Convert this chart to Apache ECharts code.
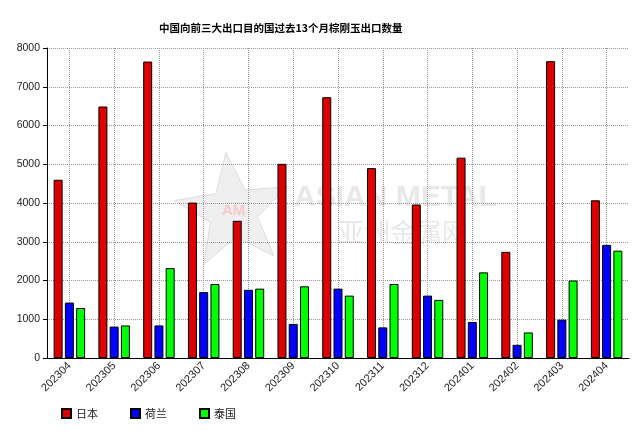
<!DOCTYPE html>
<html>
<head>
<meta charset="utf-8">
<script src="https://cdn.jsdelivr.net/npm/echarts@6/dist/echarts.min.js"></script>
<style>html,body{margin:0;padding:0;background:#fff;}#c{width:644px;height:435px;}</style>
</head>
<body>
<div id="c"></div>
<script>
var categories = ['202304','202305','202306','202307','202308','202309','202310','202311','202312','202401','202402','202403','202404'];
var japan = [4600, 6490, 7650, 4010, 3540, 5010, 6730, 4900, 3960, 5170, 2740, 7660, 4070];
var netherlands = [1430, 810, 840, 1700, 1760, 880, 1790, 790, 1610, 930, 340, 990, 2920];
var thailand = [1290, 840, 2320, 1910, 1790, 1850, 1610, 1910, 1500, 2210, 660, 2000, 2770];
var seriesNames = ['日本', '荷兰', '泰国'];
var yTicks = [0, 1000, 2000, 3000, 4000, 5000, 6000, 7000, 8000];

function starPoints(cx, cy, R, r, rot) {
  var pts = [];
  for (var i = 0; i < 10; i++) {
    var rad = (i % 2 === 0) ? R : r;
    var a = rot + i * Math.PI / 5 - Math.PI / 2;
    pts.push([cx + rad * Math.cos(a), cy + rad * Math.sin(a)]);
  }
  return pts;
}

var chart = echarts.init(document.getElementById('c'), null, {renderer: 'canvas'});
var barStyle = function (c) { return {color: c, borderColor: '#000', borderWidth: 1}; };
var font = '"Liberation Sans", Arial, sans-serif';
chart.setOption({
  animation: false,
  backgroundColor: '#fff',
  title: {
    text: '中国向前三大出口目的国过去13个月棕刚玉出口数量',
    left: 154, top: 18,
    textStyle: {fontSize: 10.5, fontWeight: 'bold', color: '#000', fontFamily: '"Noto Sans CJK SC", sans-serif'}
  },
  graphic: [
    {type: 'polygon', z: 0, shape: {points: starPoints(233, 212, 60, 25, -0.12)}, style: {fill: '#efefef', stroke: '#dddddd', lineWidth: 1}},
    {type: 'text', z: 0, left: 222, top: 203, style: {text: 'AM', fontSize: 15, fontWeight: 'bold', fill: '#f6c8c8', fontFamily: font}},
    {type: 'text', z: 0, left: 294, top: 183, style: {text: 'ASIAN METAL', fontSize: 30, fontWeight: 'bold', fill: '#e8e8e8', fontFamily: font}},
    {type: 'text', z: 0, left: 338, top: 219, style: {text: '亚洲金属网', fontSize: 26, fill: '#e8e8e8', fontFamily: '"Noto Sans CJK SC", sans-serif'}}
  ],
  legend: {
    data: seriesNames,
    left: 56, top: 403,
    itemWidth: 9, itemHeight: 9, itemGap: 32,
    icon: 'rect',
    textStyle: {fontSize: 11, color: '#222', fontFamily: '"Noto Sans CJK SC", sans-serif'}
  },
  grid: {left: 47, right: 15, top: 48, bottom: 77, containLabel: false},
  xAxis: {
    type: 'category',
    data: categories,
    axisLine: {lineStyle: {color: '#000', width: 1}},
    axisTick: {alignWithLabel: true, length: 4, lineStyle: {color: '#000'}},
    axisLabel: {rotate: 45, fontSize: 11, color: '#222', margin: 6, fontFamily: font},
    splitLine: {show: true, alignWithLabel: true, lineStyle: {color: '#999', type: 'dotted', width: 1}}
  },
  yAxis: {
    type: 'value',
    min: yTicks[0], max: yTicks[yTicks.length - 1], interval: 1000,
    axisLine: {show: true, lineStyle: {color: '#000', width: 1}},
    axisTick: {show: true, length: 4, lineStyle: {color: '#000'}},
    axisLabel: {fontSize: 10.5, color: '#222', margin: 7, fontFamily: font, formatter: function (v) { return String(v); }},
    splitLine: {show: true, lineStyle: {color: '#999', type: 'dotted', width: 1}}
  },
  series: [
    {name: seriesNames[0], type: 'bar', data: japan, barWidth: 9, barGap: '25%', itemStyle: barStyle('#dd0000')},
    {name: seriesNames[1], type: 'bar', data: netherlands, barWidth: 9, barGap: '25%', itemStyle: barStyle('#0000ff')},
    {name: seriesNames[2], type: 'bar', data: thailand, barWidth: 9, barGap: '25%', itemStyle: barStyle('#00ff00')}
  ]
});
</script>
</body>
</html>
